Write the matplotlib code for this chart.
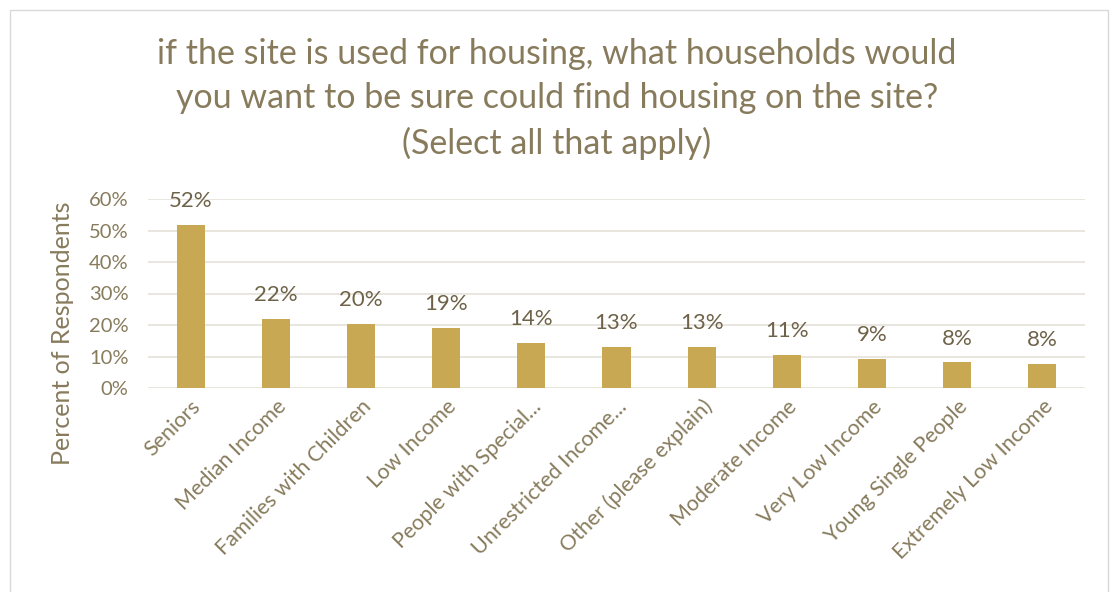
import matplotlib.pyplot as plt
from matplotlib.patches import Rectangle
from matplotlib.ticker import PercentFormatter

categories = ['Seniors', 'Median Income', 'Families with Children', 'Low Income',
              'People with Special...', 'Unrestricted Income...', 'Other (please explain)',
              'Moderate Income', 'Very Low Income', 'Young Single People',
              'Extremely Low Income']
values = [51.8, 21.9, 20.4, 19.0, 14.3, 12.9, 12.9, 10.6, 9.3, 8.1, 7.7]
labels = ['52%', '22%', '20%', '19%', '14%', '13%', '13%', '11%', '9%', '8%', '8%']
y_ticks = [0, 10, 20, 30, 40, 50, 60]

bar_color = '#C9A853'
text_color = '#877B5C'
label_color = '#6E6248'
grid_color = '#E4E1D8'

plt.rcParams['font.family'] = ['Lato', 'DejaVu Sans']

fig = plt.figure(figsize=(11.14, 5.92), dpi=100)
ax = fig.add_axes([148 / 1114, 1 - 388 / 592, (1085 - 148) / 1114, (388 - 199) / 592])

# chart frame
fig.patches.append(Rectangle((10 / 1114, -0.01), 1098 / 1114, 1 - 10 / 592 + 0.01,
                             transform=fig.transFigure, fill=False,
                             edgecolor='#D9D9D9', linewidth=1))

x = range(len(categories))
ax.bar(x, values, width=0.33, color=bar_color, zorder=3)
for i, (v, lab) in enumerate(zip(values, labels)):
    ax.annotate(lab, (i, v), xytext=(0, 10), textcoords='offset points',
                ha='center', va='bottom', fontsize=16, color=label_color)

ax.set_xlim(-0.5, len(categories) - 0.5)
ax.set_ylim(0, 60)
ax.set_yticks(y_ticks)
ax.yaxis.set_major_formatter(PercentFormatter(decimals=0))
ax.grid(axis='y', color=grid_color, linewidth=1.2, zorder=0)
for s in ax.spines.values():
    s.set_visible(False)
ax.tick_params(length=0, colors=text_color)
ax.tick_params(axis='y', labelsize=14.5, pad=14)
ax.tick_params(axis='x', labelsize=15.5, pad=6)
ax.set_xticks(list(x))
ax.set_xticklabels(categories, rotation=45, ha='right', rotation_mode='anchor')
ax.set_ylabel('Percent of Respondents', fontsize=18, color=text_color)
ax.yaxis.set_label_coords(-(148 - 74) / 937, -(333 - 388) / 189)

fig.text(0.5, 1 - 99 / 592,
         'if the site is used for housing, what households would\n'
         'you want to be sure could find housing on the site?\n'
         '(Select all that apply)',
         ha='center', va='center', fontsize=24.5, color=text_color, linespacing=1.48)

fig.savefig('out.png', dpi=100)
